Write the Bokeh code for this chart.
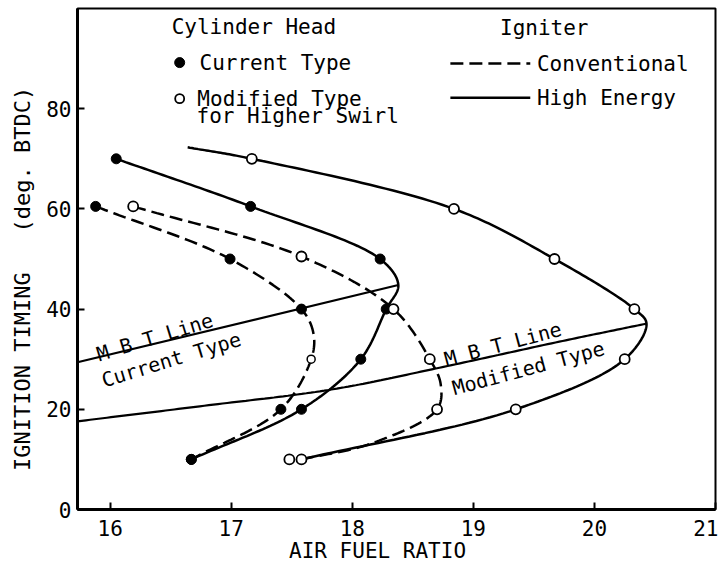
import numpy as np
from bokeh.plotting import figure
from bokeh.models import FixedTicker, Range1d
from bokeh.core.properties import value
from bokeh.embed import file_html
from bokeh.resources import INLINE

# ---------------- data ----------------
# Current type cylinder head, conventional igniter (dashed, filled markers)
cur_conv_x = [15.88, 16.99, 17.58, 17.66, 17.41, 16.67]
cur_conv_y = [60.5, 50, 40, 30, 20, 10]
cur_conv_filled = [1, 1, 1, 0, 1, 1]
cur_conv_path_x = [15.88, 16.99, 17.58, 17.68, 17.66, 17.41, 16.67]
cur_conv_path_y = [60.5, 50, 40, 35, 30, 20, 10]

# Current type, high energy igniter (solid, filled markers)
cur_he_x = [16.05, 17.16, 18.23, 18.28, 18.07, 17.58, 16.67]
cur_he_y = [70, 60.5, 50, 40, 30, 20, 10]
cur_he_path_x = [16.05, 17.16, 18.23, 18.38, 18.28, 18.07, 17.58, 16.67]
cur_he_path_y = [70, 60.5, 50, 44.8, 40, 30, 20, 10]

# Modified type, conventional igniter (dashed, open markers)
mod_conv_x = [16.19, 17.58, 18.34, 18.64, 18.70, 17.58]
mod_conv_y = [60.5, 50.5, 40, 30, 20, 10]
mod_conv_path_x = [16.19, 17.58, 18.34, 18.64, 18.73, 18.70, 18.16, 17.58]
mod_conv_path_y = [60.5, 50.5, 40, 30, 25, 20, 13.2, 10]

# Modified type, high energy igniter (solid, open markers)
mod_he_x = [17.17, 18.84, 19.67, 20.33, 20.25, 19.35, 17.48]
mod_he_y = [70, 60, 50, 40, 30, 20, 10]
mod_he_path_x = [16.64, 17.17, 18.84, 19.67, 20.33, 20.43, 20.25, 19.35, 17.58]
mod_he_path_y = [72.3, 70, 60, 50, 40, 37.1, 30, 20, 10]

# MBT lines
mbt_cur_x = [15.73, 18.38]
mbt_cur_y = [29.4, 44.8]
mbt_mod_x = [15.73, 16.74, 17.84, 18.72, 19.71, 20.43]
mbt_mod_y = [17.6, 20.6, 24.0, 28.3, 33.5, 37.1]

x_ticks = [16, 17, 18, 19, 20, 21]
y_ticks = [0, 20, 40, 60, 80]

FONT = "DejaVu Sans Mono"
SX, SY = 121.2, 5.01  # approx px per data unit (for smoothing only)


def smooth(xs, ys, n=30):
    P = np.column_stack([np.asarray(xs, float) * SX, np.asarray(ys, float) * SY])
    P = np.vstack([2 * P[0] - P[1], P, 2 * P[-1] - P[-2]])
    out = []
    for i in range(1, len(P) - 2):
        p0, p1, p2, p3 = P[i - 1], P[i], P[i + 1], P[i + 2]
        t0 = 0.0
        t1 = t0 + np.linalg.norm(p1 - p0) ** 0.5
        t2 = t1 + np.linalg.norm(p2 - p1) ** 0.5
        t3 = t2 + np.linalg.norm(p3 - p2) ** 0.5
        t = np.linspace(t1, t2, n)[:, None]
        A1 = (t1 - t) / (t1 - t0) * p0 + (t - t0) / (t1 - t0) * p1
        A2 = (t2 - t) / (t2 - t1) * p1 + (t - t1) / (t2 - t1) * p2
        A3 = (t3 - t) / (t3 - t2) * p2 + (t - t2) / (t3 - t2) * p3
        B1 = (t2 - t) / (t2 - t0) * A1 + (t - t0) / (t2 - t0) * A2
        B2 = (t3 - t) / (t3 - t1) * A2 + (t - t1) / (t3 - t1) * A3
        C = (t2 - t) / (t2 - t1) * B1 + (t - t1) / (t2 - t1) * B2
        out.append(C if i == 1 else C[1:])
    C = np.vstack(out)
    return C[:, 0] / SX, C[:, 1] / SY


p = figure(width=718, height=566, output_backend="svg", toolbar_location=None,
           x_range=Range1d(15.73, 21.0), y_range=Range1d(0, 100),
           min_border_left=77, min_border_right=3, min_border_top=8,
           min_border_bottom=57)
p.grid.visible = False
p.outline_line_color = "black"
p.outline_line_width = 2
p.background_fill_color = "white"
p.border_fill_color = "white"

for ax in (p.xaxis[0], p.yaxis[0]):
    ax.axis_line_width = 3
    ax.axis_line_color = "black"
    ax.major_tick_in = 7
    ax.major_tick_out = 0
    ax.major_tick_line_width = 2
    ax.minor_tick_line_color = None
    ax.major_label_text_font = FONT
    ax.major_label_text_font_size = "21px"
    ax.major_label_text_color = "black"
    ax.axis_label_text_font = FONT
    ax.axis_label_text_font_style = "normal"
    ax.axis_label_text_color = "black"

p.xaxis.ticker = FixedTicker(ticks=x_ticks)
p.yaxis.ticker = FixedTicker(ticks=y_ticks)
p.xaxis.major_label_standoff = 10
p.yaxis.major_label_standoff = 6
p.xaxis.axis_label = "AIR FUEL RATIO" + "\u00a0" * 3
p.xaxis.axis_label_text_font_size = "21px"
p.xaxis.axis_label_standoff = 0
p.yaxis.axis_label = "IGNITION TIMING" + "\u00a0" * 3 + "(deg. BTDC)" + "\u00a0" * 3
p.yaxis.axis_label_text_font_size = "22px"
p.yaxis.axis_label_standoff = 8

LW = 2.5
DASH = "13 6"

# curves
for px, py, dash in [(cur_conv_path_x, cur_conv_path_y, DASH),
                     (mod_conv_path_x, mod_conv_path_y, DASH),
                     (cur_he_path_x, cur_he_path_y, "solid"),
                     (mod_he_path_x, mod_he_path_y, "solid")]:
    sx, sy = smooth(px, py)
    p.line(sx, sy, line_color="black", line_width=LW, line_dash=dash)

# MBT lines
p.line(mbt_cur_x, mbt_cur_y, line_color="black", line_width=2.2)
mx, my = smooth(mbt_mod_x, mbt_mod_y)
p.line(mx, my, line_color="black", line_width=2.2)

# markers
cf_x = [x for x, f in zip(cur_conv_x, cur_conv_filled) if f]
cf_y = [y for y, f in zip(cur_conv_y, cur_conv_filled) if f]
co_x = [x for x, f in zip(cur_conv_x, cur_conv_filled) if not f]
co_y = [y for y, f in zip(cur_conv_y, cur_conv_filled) if not f]
p.scatter(cf_x + cur_he_x, cf_y + cur_he_y, size=10, fill_color="black",
          line_color="black")
p.scatter(mod_conv_x + mod_he_x, mod_conv_y + mod_he_y, size=10,
          fill_color="white", line_color="black", line_width=1.8)
p.scatter(co_x, co_y, size=8, fill_color="white", line_color="black",
          line_width=1.5)

# MBT labels
mbt_label_x = [15.893, 15.934]
mbt_label_y = [30.9, 25.7]
mbt_label_txt = ["M B T Line", "Current Type"]
p.text(mbt_label_x, mbt_label_y, text=mbt_label_txt, angle=np.deg2rad(17),
       text_font=value(FONT), text_font_size="20px", text_align="left",
       text_baseline="alphabetic", text_color="black")
mbt2_label_x = [18.764, 18.83]
mbt2_label_y = [29.9, 24.15]
mbt2_label_txt = ["M B T Line", "Modified Type"]
p.text(mbt2_label_x, mbt2_label_y, text=mbt2_label_txt, angle=np.deg2rad(15),
       text_font=value(FONT), text_font_size="20px", text_align="left",
       text_baseline="alphabetic", text_color="black")

# legend (drawn by hand, as in the original)
leg_text_x = [16.508, 16.738, 16.72, 16.713, 19.22, 19.525, 19.525]
leg_text_y = [96.4, 89.2, 82.0, 78.6, 96.2, 89.0, 82.2]
leg_text = ["Cylinder Head", "Current Type", "Modified Type",
            "for Higher Swirl", "Igniter", "Conventional", "High Energy"]
p.text(leg_text_x, leg_text_y, text=leg_text, text_font=value(FONT),
       text_font_size="21px", text_align="left", text_baseline="middle",
       text_color="black")
leg_mark_x = [16.574]
p.scatter(leg_mark_x, [89.2], size=10, fill_color="black", line_color="black")
p.scatter(leg_mark_x, [82.0], size=9, fill_color="white", line_color="black",
          line_width=1.8)
leg_line_x = [18.81, 19.47]
p.line(leg_line_x, [89.0, 89.0], line_color="black", line_width=LW,
       line_dash=DASH)
p.line(leg_line_x, [82.2, 82.2], line_color="black", line_width=LW)

open("out.html", "w").write(file_html(p, INLINE))
